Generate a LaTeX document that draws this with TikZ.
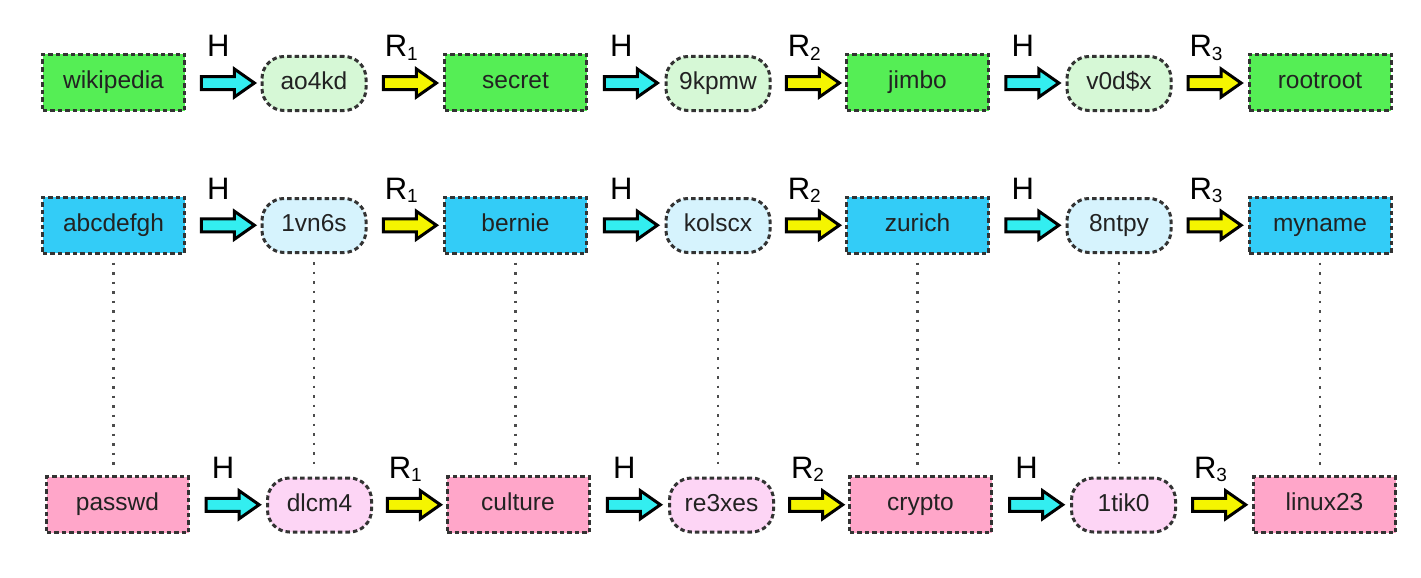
\documentclass[tikz,border=0pt]{standalone}
\usepackage{fontspec}
\setmainfont{Liberation Sans}
\usetikzlibrary{shapes.arrows,calc}
\definecolor{gbox}{HTML}{55EE55}
\definecolor{gell}{HTML}{D6F8D6}
\definecolor{bbox}{HTML}{33CCF7}
\definecolor{bell}{HTML}{D6F3FD}
\definecolor{pbox}{HTML}{FFA6C9}
\definecolor{pell}{HTML}{FDD5F5}
\definecolor{harr}{HTML}{33EEF0}
\definecolor{rarr}{HTML}{F5F500}
\definecolor{bord}{HTML}{333333}
\definecolor{txt}{HTML}{222222}
\tikzset{
  x=1pt,y=1pt,
  base/.style={draw=bord, line width=3pt, dash pattern=on 4.5pt off 3pt, inner sep=0pt,
    text=txt, font=\fontsize{24.5}{28}\selectfont, text height=18pt, text depth=6pt},
  pbox/.style={base, rectangle, minimum width=142pt, minimum height=56pt},
  pell/.style={base, rectangle, rounded corners=22pt, minimum width=104pt, minimum height=54pt},
  fat/.style={single arrow, draw=black, line width=3pt, inner sep=0pt,
    text height=10pt, text depth=0pt, text width=0pt,
    minimum height=53pt, minimum width=25pt, single arrow head extend=7.5pt,
    single arrow tip angle=70, anchor=center},
  harrow/.style={fat, fill=harr},
  rarrow/.style={fat, fill=rarr},
  lbl/.style={anchor=base, inner sep=0pt, text=black, font=\fontsize{31}{34}\selectfont},
  dots/.style={draw=black!70, line width=2.8pt, dash pattern=on 2.8pt off 6.7pt,
    shorten <=8pt, shorten >=9pt}
}
\newcommand{\rlab}[1]{R\raisebox{-3pt}{\fontsize{19}{20}\selectfont #1}}
\begin{document}
\begin{tikzpicture}
\useasboundingbox (0,0) rectangle (1421,-578);
% row 1
\node[pbox, fill=gbox] (a1) at (113.5,-82.5) {wikipedia};
\node[pell, fill=gell] (a2) at (314,-83.5) {ao4kd};
\node[pbox, fill=gbox] (a3) at (515.5,-82.5) {secret};
\node[pell, fill=gell] (a4) at (718,-83.5) {9kpmw};
\node[pbox, fill=gbox] (a5) at (917.5,-82.5) {jimbo};
\node[pell, fill=gell] (a6) at (1119,-83.5) {v0d\$x};
\node[pbox, fill=gbox] (a7) at (1320,-82.5) {rootroot};
% row 2
\node[pbox, fill=bbox] (b1) at (113.5,-225) {abcdefgh};
\node[pell, fill=bell] (b2) at (314,-225.5) {1vn6s};
\node[pbox, fill=bbox] (b3) at (515.5,-225) {bernie};
\node[pell, fill=bell] (b4) at (718,-225.5) {kolscx};
\node[pbox, fill=bbox] (b5) at (917.5,-225) {zurich};
\node[pell, fill=bell] (b6) at (1119,-225.5) {8ntpy};
\node[pbox, fill=bbox] (b7) at (1320,-225) {myname};
% row 3
\node[pbox, fill=pbox] (c1) at (117.5,-504.5) {passwd};
\node[pell, fill=pell] (c2) at (319.5,-505) {dlcm4};
\node[pbox, fill=pbox] (c3) at (518,-504.5) {culture};
\node[pell, fill=pell] (c4) at (721.5,-505) {re3xes};
\node[pbox, fill=pbox] (c5) at (920.5,-504.5) {crypto};
\node[pell, fill=pell] (c6) at (1123.5,-505) {1tik0};
\node[pbox, fill=pbox] (c7) at (1324.5,-504.5) {linux23};
% arrows and labels
\foreach \r in {a,b,c}{
  \path (\r1.east) -- node[harrow] (\r h1) {} (\r2.west);
  \path (\r2.east) -- node[rarrow] (\r r1) {} (\r3.west);
  \path (\r3.east) -- node[harrow] (\r h2) {} (\r4.west);
  \path (\r4.east) -- node[rarrow] (\r r2) {} (\r5.west);
  \path (\r5.east) -- node[harrow] (\r h3) {} (\r6.west);
  \path (\r6.east) -- node[rarrow] (\r r3) {} (\r7.west);
  \node[lbl] (\r lh1) at ([xshift=-5pt,yshift=26pt]\r h1.center) {H};
  \node[lbl] (\r lh2) at ([xshift=-5pt,yshift=26pt]\r h2.center) {H};
  \node[lbl] (\r lh3) at ([xshift=-5pt,yshift=26pt]\r h3.center) {H};
  \node[lbl] (\r lr1) at ([xshift=-4pt,yshift=26pt]\r r1.center) {\rlab{1}};
  \node[lbl] (\r lr2) at ([xshift=-4pt,yshift=26pt]\r r2.center) {\rlab{2}};
  \node[lbl] (\r lr3) at ([xshift=-4pt,yshift=26pt]\r r3.center) {\rlab{3}};
}
% dotted links
\foreach \i in {1,...,7}{
  \draw[dots] (b\i.south) -- (b\i.south |- c\i.north);
}
\end{tikzpicture}
\end{document}
